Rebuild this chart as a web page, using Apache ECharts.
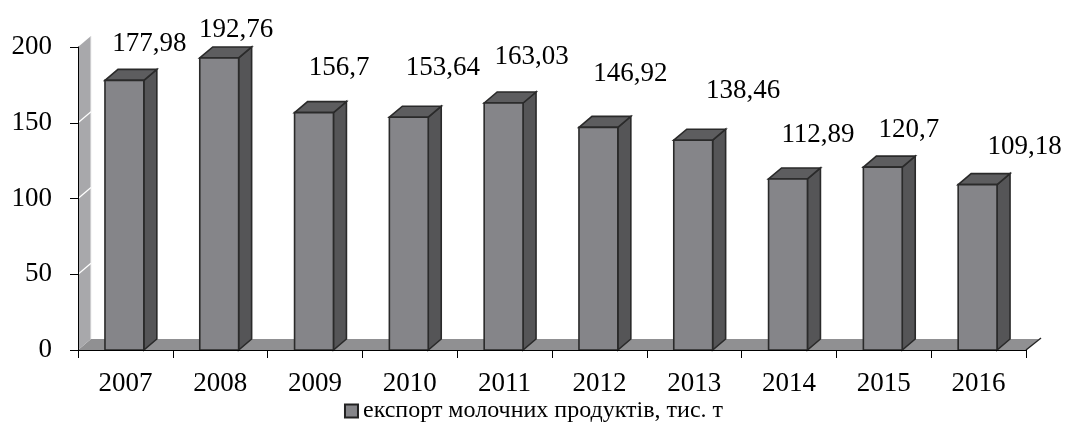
<!DOCTYPE html>
<html>
<head>
<meta charset="utf-8">
<script src="https://cdn.jsdelivr.net/npm/echarts@6/dist/echarts.min.js"></script>
<style>
html,body{margin:0;padding:0;background:#fff;}
#chart{width:1067px;height:423px;}
</style>
</head>
<body>
<div id="chart"></div>
<script>
// ---- data ----
const categories = ['2007','2008','2009','2010','2011','2012','2013','2014','2015','2016'];
const exportValues = [177.98, 192.76, 156.7, 153.64, 163.03, 146.92, 138.46, 112.89, 120.7, 109.18];
const yTicks = [0, 50, 100, 150, 200];
const seriesName = 'експорт молочних продуктів, тис. т';

// ---- style (label nudges relative to bar top, px) ----
const labelDX = [25, 17, 25, 34, 28, 32, 50, 30, 26, 47];
const labelDY = [-36, -28, -45, -49, -46, -54, -49, -44, -37, -38];
const DEPTH_X = 13, DEPTH_Y = -11;
const FONT = '"Liberation Serif", "Times New Roman", serif';

const chart = echarts.init(document.getElementById('chart'));

function fmt(v){ return String(v).replace('.', ','); }

const barData = exportValues.map((v, i) => [i, v]);

const option = {
  animation: false,
  backgroundColor: '#ffffff',
  textStyle: { fontFamily: FONT, color: '#000' },
  grid: { left: 78, right: 41, top: 47, bottom: 73 },
  legend: {
    data: [{ name: seriesName, icon: 'rect',
      itemStyle: { color: '#858589', borderColor: '#222', borderWidth: 2 } }],
    left: 'center', top: 399,
    itemWidth: 13, itemHeight: 13, itemGap: 8, padding: 0,
    textStyle: { fontFamily: FONT, fontSize: 24, color: '#000' },
    selectedMode: false
  },
  xAxis: {
    type: 'category', data: categories, boundaryGap: true, z: 5,
    axisLine: { show: true, lineStyle: { color: '#000', width: 1 } },
    axisTick: { show: true, length: 8, lineStyle: { color: '#000' } },
    axisLabel: { fontFamily: FONT, fontSize: 27, color: '#000', margin: 20 },
    splitLine: { show: false }
  },
  yAxis: {
    type: 'value', min: yTicks[0], max: yTicks[yTicks.length - 1], interval: 50, z: 5,
    axisLine: { show: true, lineStyle: { color: '#000', width: 1 } },
    axisTick: { show: true, length: 8, lineStyle: { color: '#000' } },
    axisLabel: { fontFamily: FONT, fontSize: 27, color: '#000', margin: 26 },
    splitLine: { show: false }
  },
  series: [
    {
      name: 'floor', type: 'custom', z: 1, silent: true,
      data: [[0, 0]],
      renderItem: function (params, api) {
        const cs = params.coordSys;
        const x0 = cs.x, x1 = cs.x + cs.width;
        const yB = api.coord([0, yTicks[0]])[1];
        const yT = api.coord([0, yTicks[yTicks.length - 1]])[1];
        const children = [];
        children.push({
          type: 'polygon',
          shape: { points: [[x0, yB], [x0 + DEPTH_X, yB + DEPTH_Y], [x1 + DEPTH_X, yB + DEPTH_Y], [x1, yB]] },
          style: { fill: '#909092', stroke: null }
        });
        children.push({
          type: 'line',
          shape: { x1: x1, y1: yB, x2: x1 + DEPTH_X + 2, y2: yB + DEPTH_Y - 1 },
          style: { stroke: '#222', lineWidth: 1.5 }
        });
        children.push({
          type: 'polygon',
          shape: { points: [[x0, yB], [x0, yT], [x0 + DEPTH_X, yT + DEPTH_Y], [x0 + DEPTH_X, yB + DEPTH_Y]] },
          style: { fill: '#a8a8ab', stroke: null }
        });
        children.push({
          type: 'line',
          shape: { x1: x0 + DEPTH_X, y1: yT + DEPTH_Y, x2: x0 + DEPTH_X, y2: yB + DEPTH_Y },
          style: { stroke: '#f0f0f0', lineWidth: 1 }
        });
        yTicks.slice(1, -1).forEach(t => {
          const y = api.coord([0, t])[1];
          children.push({
            type: 'line',
            shape: { x1: x0, y1: y, x2: x0 + DEPTH_X, y2: y + DEPTH_Y },
            style: { stroke: '#ffffff', lineWidth: 1.2 }
          });
        });
        return { type: 'group', children: children };
      }
    },
    {
      name: seriesName, type: 'custom', z: 3,
      itemStyle: { color: '#858589', borderColor: '#222', borderWidth: 2 },
      data: barData,
      encode: { x: 0, y: 1 },
      renderItem: function (params, api) {
        const i = api.value(0), v = api.value(1);
        const top = api.coord([i, v]);
        const base = api.coord([i, 0]);
        const band = api.size([1, 0])[0];
        const w = band * 0.41;
        const cx = top[0] - 1;
        const x0 = cx - w / 2, x1 = cx + w / 2;
        const yT = top[1], yB = base[1];
        const stroke = '#2a2a2a', lw = 1.6;
        return {
          type: 'group',
          children: [
            { type: 'polygon',
              shape: { points: [[x1, yT], [x1 + DEPTH_X, yT + DEPTH_Y], [x1 + DEPTH_X, yB + DEPTH_Y], [x1, yB]] },
              style: { fill: '#555557', stroke: stroke, lineWidth: lw } },
            { type: 'polygon',
              shape: { points: [[x0, yT], [x0 + DEPTH_X, yT + DEPTH_Y], [x1 + DEPTH_X, yT + DEPTH_Y], [x1, yT]] },
              style: { fill: '#5d5d5f', stroke: stroke, lineWidth: lw } },
            { type: 'rect',
              shape: { x: x0, y: yT, width: w, height: yB - yT },
              style: { fill: '#858589', stroke: stroke, lineWidth: lw } },
            { type: 'text',
              style: { text: fmt(v), x: cx + labelDX[i], y: yT + labelDY[i],
                align: 'center', verticalAlign: 'middle',
                font: '27px ' + FONT, fill: '#000' } }
          ]
        };
      }
    }
  ]
};
chart.setOption(option);
</script>
</body>
</html>
